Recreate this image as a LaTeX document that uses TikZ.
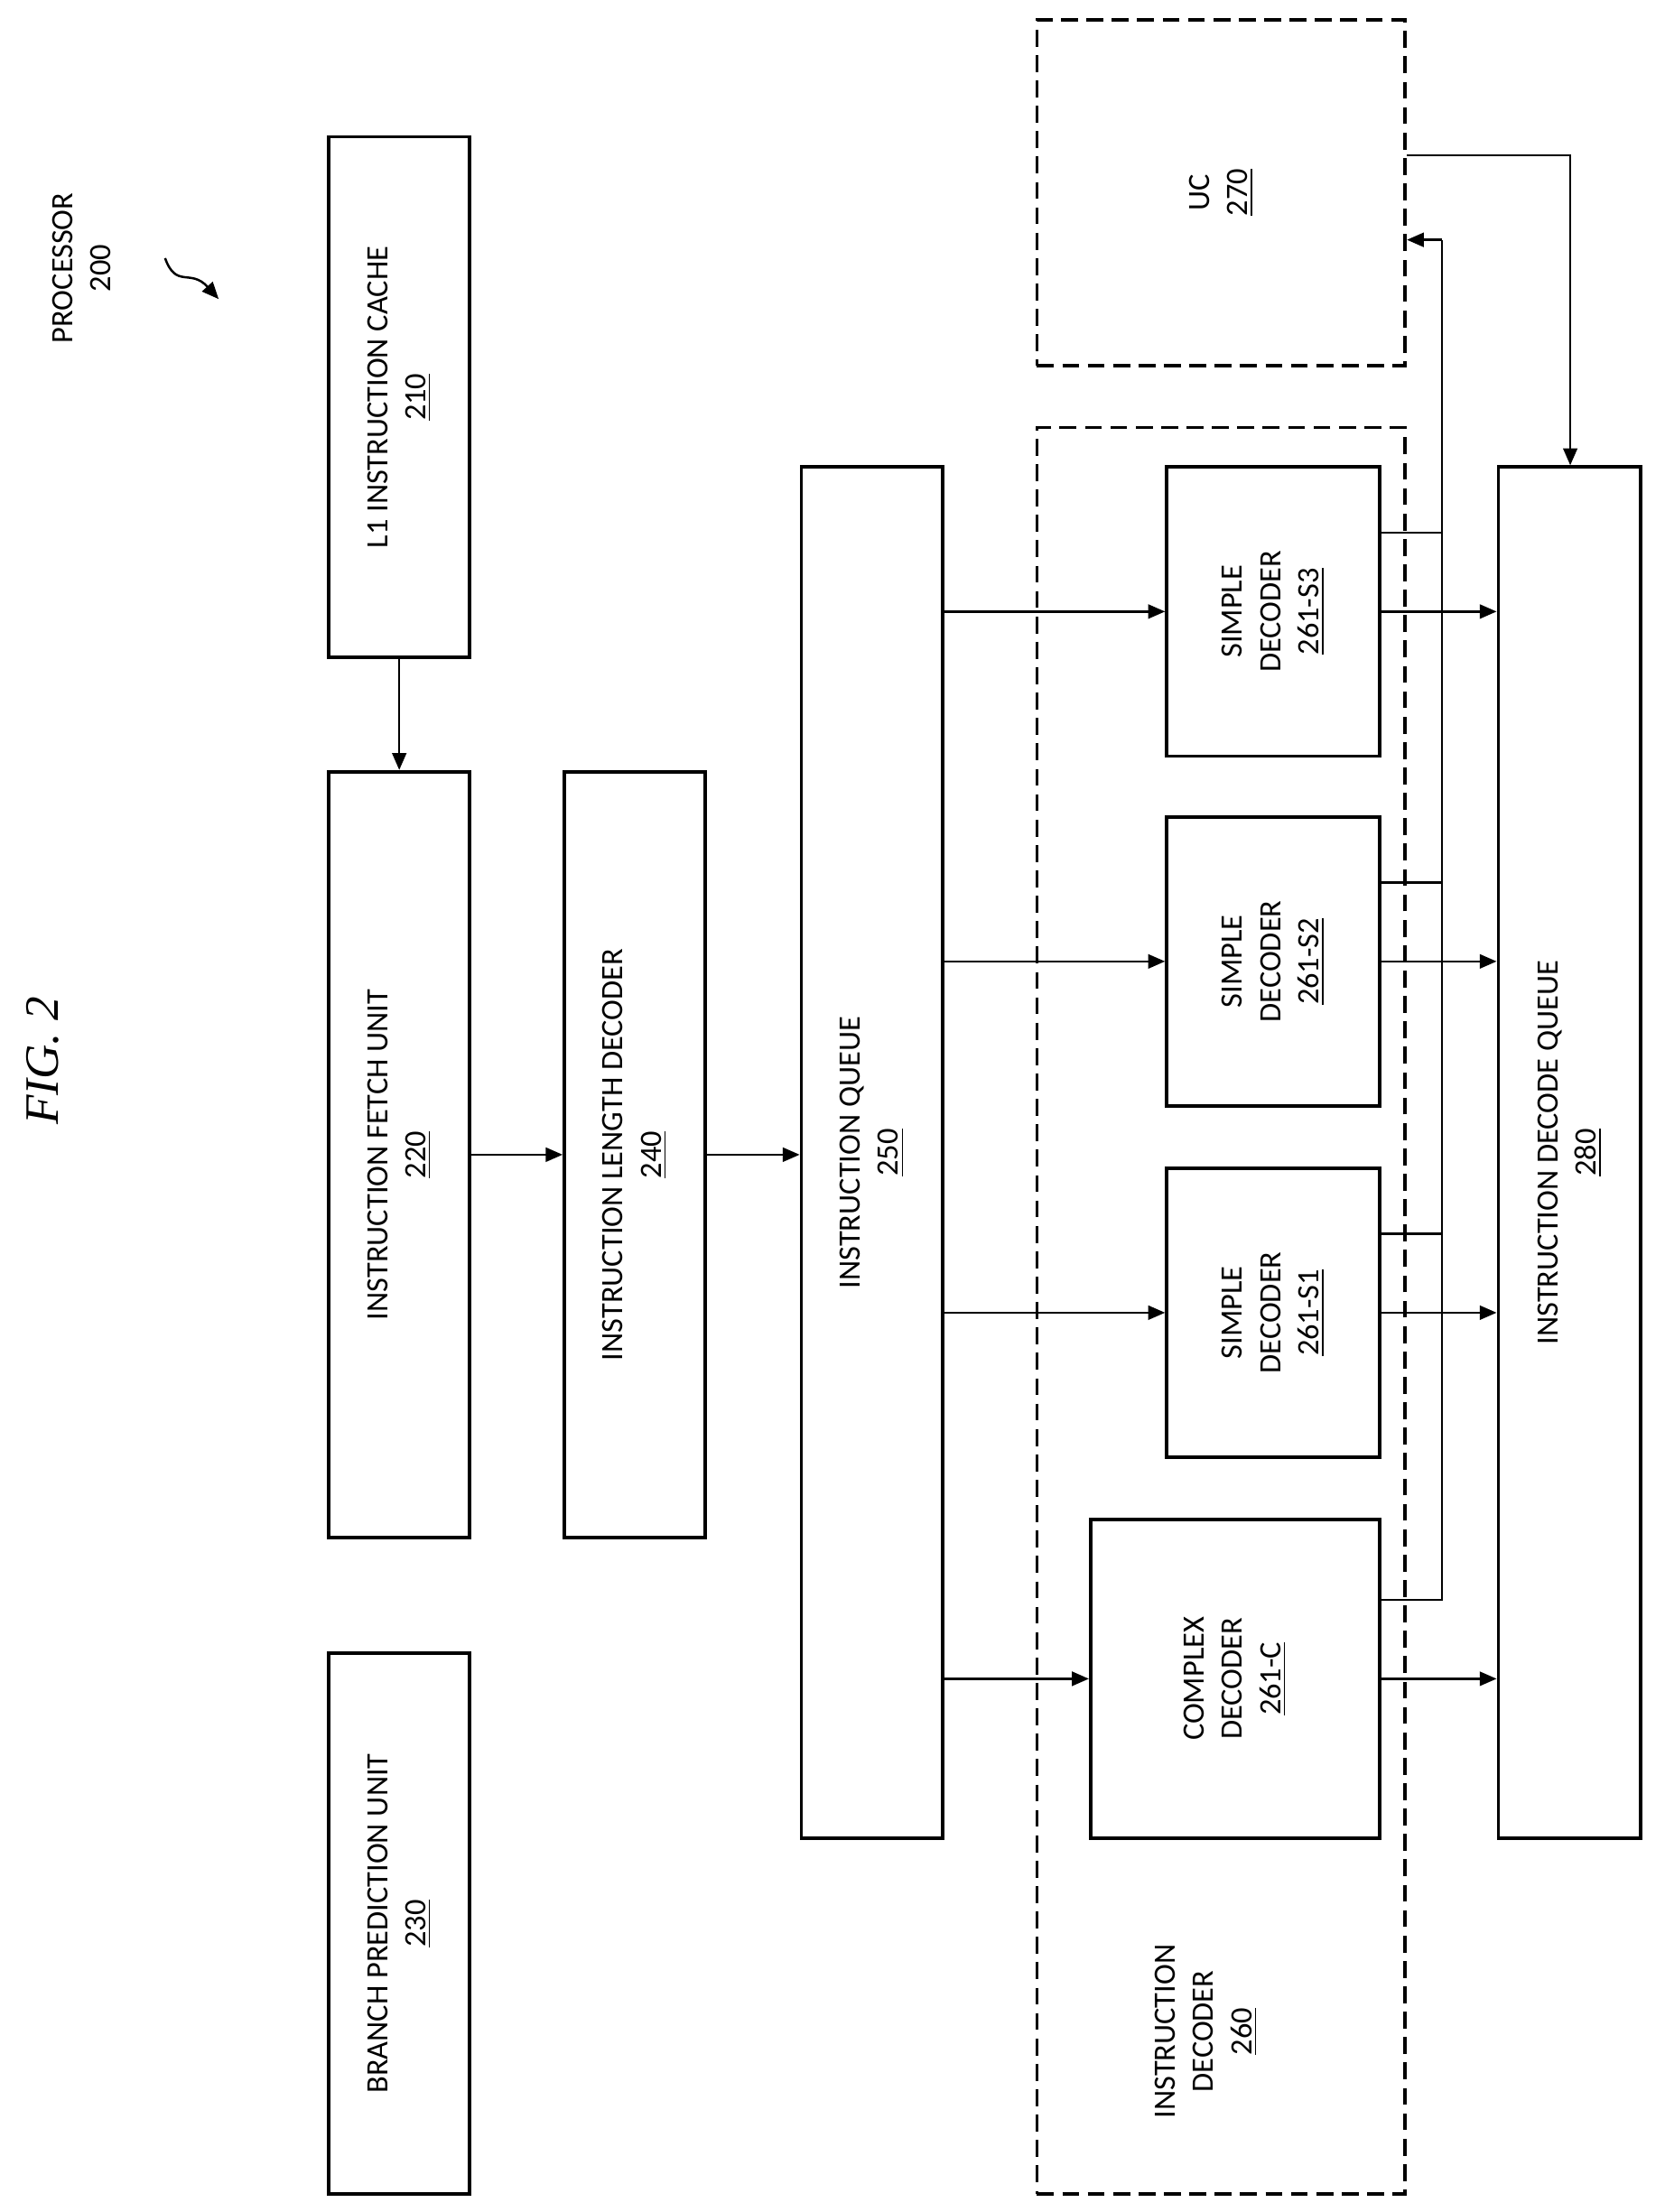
\documentclass[tikz,border=0pt]{standalone}
\usepackage{fontspec}
\setmainfont{Carlito}
\newfontfamily\figfont{Liberation Serif}
\usetikzlibrary{arrows.meta}
\tikzset{
  box/.style={draw, line width=1.2pt, inner sep=0pt},
  dbox/.style={draw, line width=1.2pt, dash pattern=on 6pt off 3pt, inner sep=0pt},
  lbl/.style={rotate=90, align=center, font=\fontsize{11}{13.5}\selectfont},
  conn/.style={line width=0.8pt},
  arr/.style={conn, -{Triangle[length=6pt,width=5pt]}}
}
\begin{document}
\begin{tikzpicture}[x=0.5pt,y=-0.5pt]
\useasboundingbox (0,0) rectangle (1180,1568);
% boxes
\node[box, minimum width=50pt, minimum height=184.5pt] (l1) at (283,281.5) {};
\node[box, minimum width=50pt, minimum height=271.5pt] (ifu) at (283,818.5) {};
\node[box, minimum width=50pt, minimum height=191.5pt] (bpu) at (283,1363.5) {};
\node[box, minimum width=50pt, minimum height=271.5pt] (ild) at (450,818.5) {};
\node[box, minimum width=50pt, minimum height=486pt] (iq) at (618,817) {};
\node[dbox, minimum width=130.5pt, minimum height=626pt] (idec) at (865.5,929) {};
\node[box, minimum width=75.5pt, minimum height=102.5pt] (s3) at (902.5,433.5) {};
\node[box, minimum width=75.5pt, minimum height=102.5pt] (s2) at (902.5,681.5) {};
\node[box, minimum width=75.5pt, minimum height=102.5pt] (s1) at (902.5,930.5) {};
\node[box, minimum width=102.5pt, minimum height=113pt] (cplx) at (875.5,1190) {};
\node[dbox, minimum width=130.5pt, minimum height=122.5pt] (uc) at (865.5,136.5) {};
\node[box, minimum width=50.5pt, minimum height=486pt] (idq) at (1112.5,817) {};
% labels
\node[lbl] at (l1) {L1 INSTRUCTION CACHE\\\underline{210}};
\node[lbl] at (ifu) {INSTRUCTION FETCH UNIT\\\underline{220}};
\node[lbl] at (bpu) {BRANCH PREDICTION UNIT\\\underline{230}};
\node[lbl] at (ild) {INSTRUCTION LENGTH DECODER\\\underline{240}};
\node[lbl] at (iq) {INSTRUCTION QUEUE\\\underline{250}};
\node[lbl] at (855,1440) {INSTRUCTION\\DECODER\\\underline{260}};
\node[lbl] at (s3) {SIMPLE\\DECODER\\\underline{261-S3}};
\node[lbl] at (s2) {SIMPLE\\DECODER\\\underline{261-S2}};
\node[lbl] at (s1) {SIMPLE\\DECODER\\\underline{261-S1}};
\node[lbl] at (cplx) {COMPLEX\\DECODER\\\underline{261-C}};
\node[lbl] at (uc) {UC\\\underline{270}};
\node[lbl] at (idq) {INSTRUCTION DECODE QUEUE\\\underline{280}};
\node[lbl] (proc) at (58,190) {PROCESSOR\\200};
\node[rotate=90, font=\figfont\itshape\fontsize{17}{20}\selectfont] (fig) at (30,752) {FIG. 2};
% squiggle
\coordinate (sq1) at (117,183);
\coordinate (sq2) at (155,212);
\draw[arr] (sq1) .. controls (125,205) and (135,190) .. (sq2);
% arrows
\draw[arr] (l1.south) -- (ifu.north -| l1.south);
\draw[arr] (ifu.east) -- (ild.west);
\draw[arr] (ild.east) -- (iq.west |- ild.east);
\foreach \d in {s3,s2,s1,cplx}{
  \draw[arr] (iq.east |- \d) -- (\d.west);
  \draw[arr] (\d.east) -- (idq.west |- \d.east);
}
% feedback bus to UC
\coordinate (bus) at (1022,170);
\foreach \d in {s3,s2,s1,cplx}{
  \draw[conn] ([yshift=28pt]\d.east) -| (bus);
}
\draw[arr] (bus) -- (uc.east |- bus);
\coordinate (ucout) at (1113,110);
\draw[arr] (uc.east |- ucout) -- (ucout) -- (idq.north -| ucout);
\end{tikzpicture}
\end{document}
